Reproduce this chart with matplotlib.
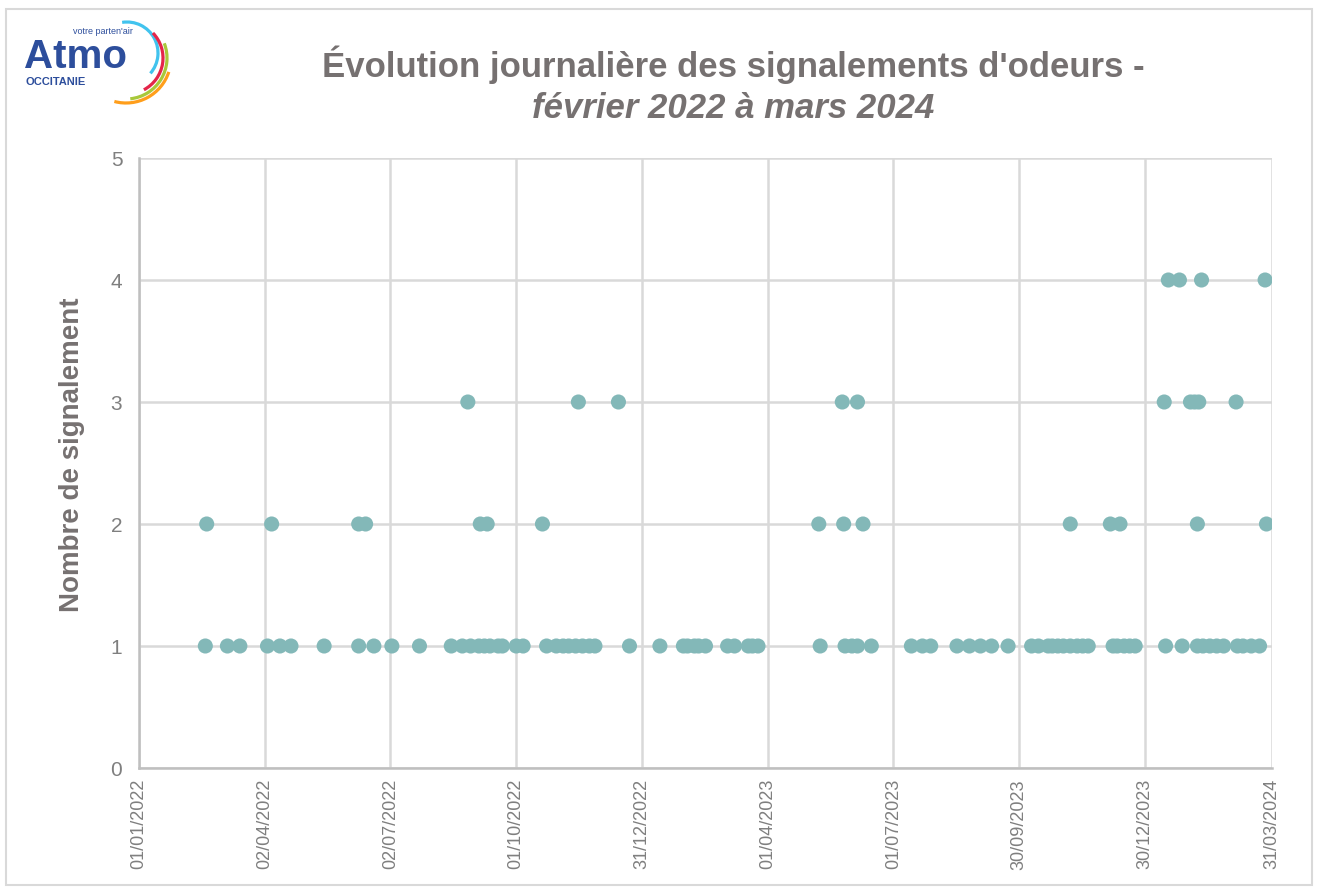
import matplotlib
matplotlib.use("Agg")
import matplotlib.pyplot as plt
from matplotlib.patches import Rectangle, Arc
import pandas as pd

# ---------------- data ----------------
dates_1 = ["2022-02-18", "2022-03-06", "2022-03-15", "2022-04-04", "2022-04-13", "2022-04-21",
           "2022-05-15", "2022-06-09", "2022-06-20", "2022-07-03", "2022-07-23",
           "2022-08-15", "2022-08-23", "2022-08-29", "2022-09-04", "2022-09-08", "2022-09-12",
           "2022-09-18", "2022-09-21", "2022-10-01", "2022-10-06",
           "2022-10-23", "2022-10-30", "2022-11-04", "2022-11-08", "2022-11-13", "2022-11-18",
           "2022-11-23", "2022-11-27", "2022-12-22", "2023-01-13",
           "2023-01-30", "2023-02-02", "2023-02-07", "2023-02-10", "2023-02-15", "2023-03-03",
           "2023-03-08", "2023-03-18", "2023-03-21", "2023-03-25",
           "2023-05-09", "2023-05-27", "2023-06-01", "2023-06-05", "2023-06-15",
           "2023-07-14", "2023-07-22", "2023-07-28",
           "2023-08-16", "2023-08-25", "2023-09-02", "2023-09-10", "2023-09-22",
           "2023-10-09", "2023-10-14", "2023-10-21", "2023-10-24", "2023-10-28", "2023-11-01",
           "2023-11-06", "2023-11-11", "2023-11-15", "2023-11-19",
           "2023-12-07", "2023-12-10", "2023-12-15", "2023-12-19", "2023-12-23",
           "2024-01-14", "2024-01-26", "2024-02-06", "2024-02-10", "2024-02-15", "2024-02-20",
           "2024-02-25", "2024-03-06", "2024-03-10", "2024-03-16", "2024-03-22"]
dates_2 = ["2022-02-19", "2022-04-07", "2022-06-09", "2022-06-14", "2022-09-05", "2022-09-10",
           "2022-10-20", "2023-05-08", "2023-05-26", "2023-06-09", "2023-11-06", "2023-12-05",
           "2023-12-12", "2024-02-06", "2024-03-27"]
dates_3 = ["2022-08-27", "2022-11-15", "2022-12-14", "2023-05-25", "2023-06-05", "2024-01-13",
           "2024-02-01", "2024-02-04", "2024-02-07", "2024-03-05"]
dates_4 = ["2024-01-16", "2024-01-24", "2024-02-09", "2024-03-26"]

counts = {1: dates_1, 2: dates_2, 3: dates_3, 4: dates_4}

tick_dates = ["2022-01-01", "2022-04-02", "2022-07-02", "2022-10-01", "2022-12-31",
              "2023-04-01", "2023-07-01", "2023-09-30", "2023-12-30", "2024-03-31"]
y_ticks = [0, 1, 2, 3, 4, 5]

title_line1 = "Évolution journalière des signalements d'odeurs -"
title_line2 = "février 2022 à mars 2024"
y_label = "Nombre de signalement"

# ---------------- style ----------------
plt.rcParams['font.family'] = ["Liberation Sans", "DejaVu Sans"]

txt_col = "#767171"
tick_col = "#7F7F7F"
grid_col = "#D9D9D9"
dot_col = "#83B8B8"

fig = plt.figure(figsize=(13.19, 8.9), dpi=100)
W, H = 1319, 890
ax = fig.add_axes([139 / W, 1 - 768 / H, (1272 - 139) / W, (768 - 158) / H])

for val, ds in counts.items():
    x = pd.to_datetime(ds)
    ax.scatter(x, [val] * len(x), s=118, color=dot_col, edgecolors="none", zorder=3)

ax.set_ylim(0, 5)
ax.set_yticks(y_ticks)
ax.set_xlim(pd.Timestamp("2022-01-01"), pd.Timestamp("2024-03-31"))
ticks = pd.to_datetime(tick_dates)
ax.set_xticks(ticks)
ax.set_xticklabels([t.strftime("%d/%m/%Y") for t in ticks], rotation=90,
                   fontsize=13, color=tick_col)
ax.tick_params(axis="y", labelsize=15, colors=tick_col, length=0, pad=12)
ax.tick_params(axis="x", length=0, pad=8)
ax.grid(True, color=grid_col, linewidth=1.8, zorder=0)
ax.set_axisbelow(True)
for side in ["top", "right"]:
    ax.spines[side].set_visible(False)
for side in ["left", "bottom"]:
    ax.spines[side].set_color("#BFBFBF")
    ax.spines[side].set_linewidth(1.8)

fig.text(72 / W, 1 - 455 / H, y_label, rotation=90, ha="center", va="center",
         fontsize=20, fontweight="bold", color=txt_col)

fig.text(733 / W, 1 - 65 / H, title_line1, ha="center", va="center",
         fontsize=25, fontweight="bold", color=txt_col)
fig.text(733 / W, 1 - 109 / H, title_line2, ha="center", va="center",
         fontsize=25, fontweight="bold", fontstyle="italic", color=txt_col)

# outer border
fig.patches.append(Rectangle((6 / W, 1 - 885 / H), (1312 - 6) / W, (885 - 9) / H,
                             transform=fig.transFigure, fill=False,
                             edgecolor="#D9D9D9", linewidth=1.5))

# logo
blue = "#2D4E9C"
fig.text(24 / W, 1 - 68 / H, "Atmo", fontsize=29, fontweight="bold", color=blue,
         ha="left", va="baseline")
fig.text(25 / W, 1 - 82 / H, "OCCITANIE", fontsize=8, fontweight="bold", color=blue,
         ha="left", va="center")
fig.text(73 / W, 1 - 31 / H, "votre parten'air", fontsize=6.5, color=blue,
         ha="left", va="center")
lax = fig.add_axes([0, 0, 1, 1], facecolor="none")
lax.set_xlim(0, W)
lax.set_ylim(0, H)
lax.axis("off")
arcs = [((127, 53), 31, -41, 99, "#41C3EE"),
        ((127, 58), 36, -62, 44, "#E4254A"),
        ((126, 58), 41, -84, 21, "#A8C83A"),
        ((126, 58), 45, -105, -18, "#FF9E1B")]
for (cx, cy), r, t1, t2, col in arcs:
    lax.add_patch(Arc((cx, H - cy), 2 * r, 2 * r, theta1=t1, theta2=t2,
                      color=col, linewidth=2.3))

fig.savefig("out.png", dpi=100)
